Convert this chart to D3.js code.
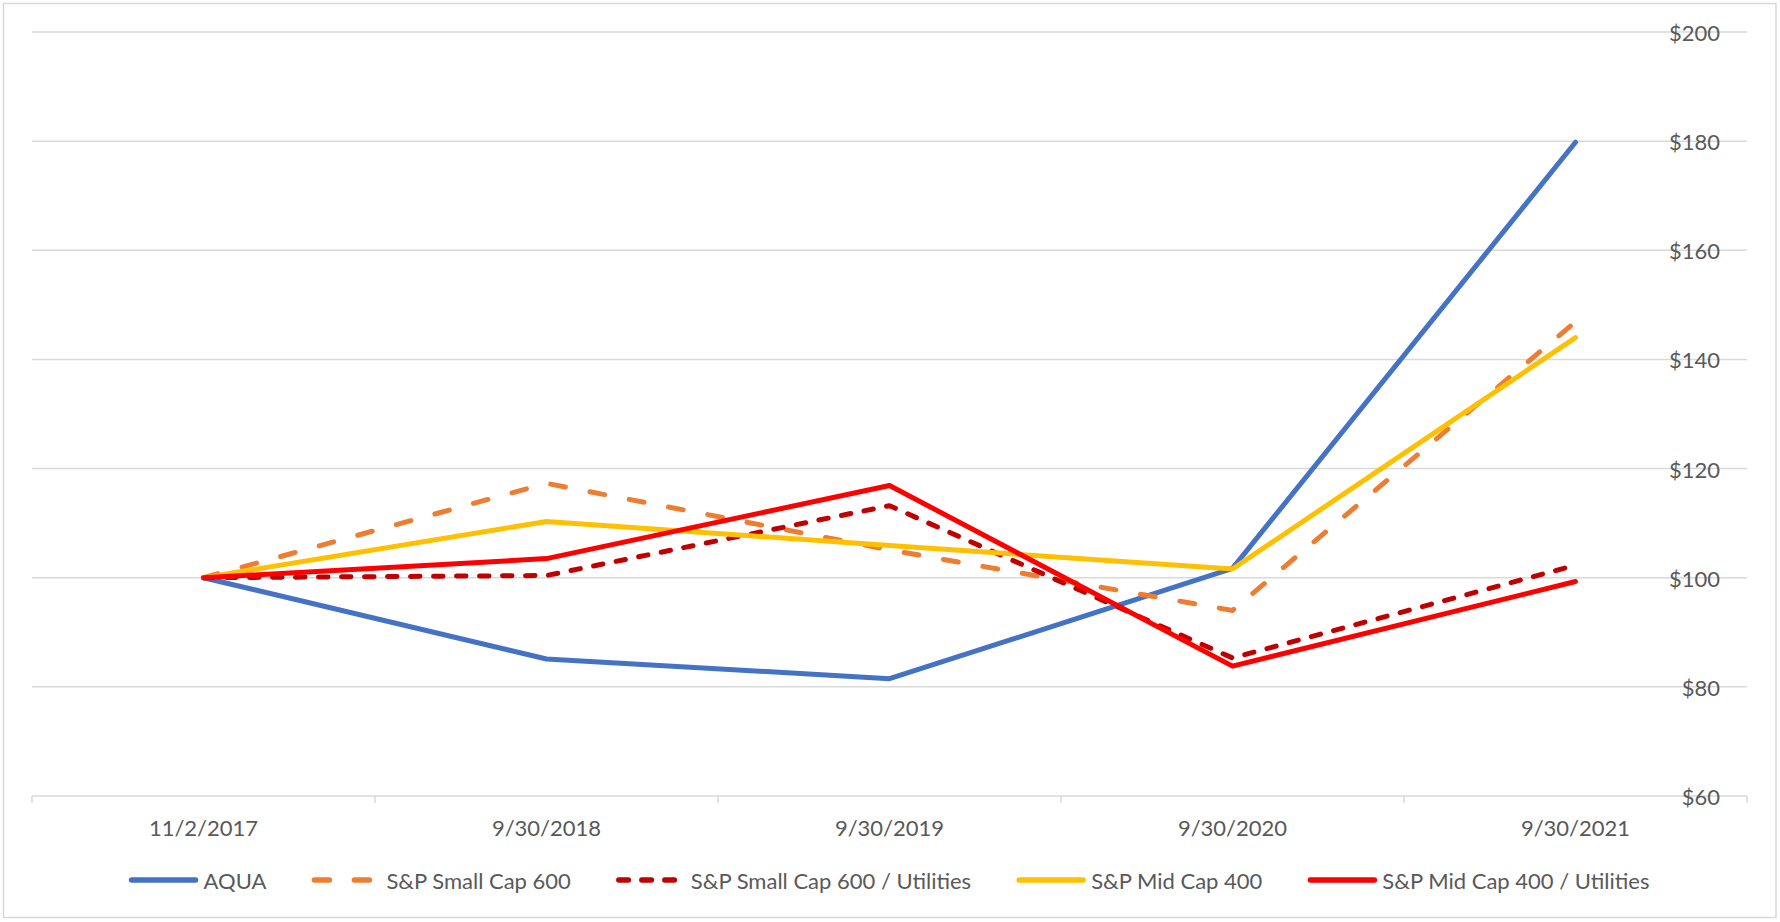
<!DOCTYPE html>
<html>
<head>
<meta charset="utf-8">
<script src="https://cdn.jsdelivr.net/npm/d3@7"></script>
<style>
  html, body { margin: 0; padding: 0; background: #fff; }
  svg { display: block; }
  text { font-family: Lato, "Open Sans", sans-serif; fill: #595959; }
</style>
</head>
<body>
<svg id="chart" width="1780" height="922"></svg>
<script>
// ---- data ----
const categories = ["11/2/2017", "9/30/2018", "9/30/2019", "9/30/2020", "9/30/2021"];
const seriesNames = ["AQUA", "S&P Small Cap 600", "S&P Small Cap 600 / Utilities", "S&P Mid Cap 400", "S&P Mid Cap 400 / Utilities"];
const aqua        = [100, 85.1, 81.5, 101.7, 179.8];
const smallCap600 = [100, 117.3, 105.1, 94.0, 146.9];
const smallCap600Util = [100, 100.4, 113.2, 85.3, 102.3];
const midCap400   = [100, 110.3, 105.9, 101.6, 144.0];
const midCap400Util = [100, 103.5, 116.9, 83.8, 99.3];
const yTicks = [60, 80, 100, 120, 140, 160, 180, 200];

// ---- styles ----
const styles = [
  { color: "#4472C4", dash: null },
  { color: "#ED7D31", dash: "15,25" },
  { color: "#C00000", dash: "9.5,13.5" },
  { color: "#FFC000", dash: null },
  { color: "#FF0000", dash: null }
];
const seriesData = [aqua, smallCap600, smallCap600Util, midCap400, midCap400Util];

const svg = d3.select("#chart");
const W = 1780, H = 922;
const plot = { left: 32, right: 1747, top: 32, bottom: 796 };
const fontSize = 22;
const lineW = 5;

// border
svg.append("rect").attr("x", 3.5).attr("y", 3.5).attr("width", W - 7.5).attr("height", H - 8)
  .attr("fill", "#fff").attr("stroke", "#d9d9d9").attr("stroke-width", 1.5);

const x = d3.scaleBand().domain(categories).range([plot.left, plot.right]).padding(0);
const y = d3.scaleLinear().domain([60, 200]).range([plot.bottom, plot.top]);

// gridlines
svg.append("g").selectAll("line").data(yTicks.filter(t => t !== 60)).join("line")
  .attr("x1", plot.left).attr("x2", plot.right)
  .attr("y1", d => y(d)).attr("y2", d => y(d))
  .attr("stroke", "#d9d9d9").attr("stroke-width", 1.5);

// x axis
const xAxis = d3.axisBottom(x).tickSize(0).tickPadding(0).tickFormat("");
const gx = svg.append("g").attr("transform", `translate(0,${plot.bottom})`).call(xAxis);
gx.select(".domain").remove();
gx.append("line").attr("x1", plot.left).attr("x2", plot.right).attr("y1", 0).attr("y2", 0)
  .attr("stroke", "#d9d9d9").attr("stroke-width", 1.5);
const boundaries = categories.map(c => x(c)).concat([x(categories[categories.length - 1]) + x.bandwidth()]);
gx.selectAll(".bnd").data(boundaries).join("line").attr("class", "bnd")
  .attr("x1", d => d).attr("x2", d => d).attr("y1", 0).attr("y2", 7)
  .attr("stroke", "#d9d9d9").attr("stroke-width", 1.5);
gx.selectAll(".xl").data(categories).join("text").attr("class", "xl")
  .attr("x", d => x(d) + x.bandwidth() / 2).attr("y", 31)
  .attr("text-anchor", "middle").attr("dominant-baseline", "central")
  .attr("font-size", fontSize).text(d => d);

// y axis labels (right side, on gridlines)
const yAxis = d3.axisRight(y).tickValues(yTicks).tickSize(0).tickFormat(d => "$" + d);
const gy = svg.append("g").attr("transform", `translate(1720,0)`).call(yAxis);
gy.select(".domain").remove();
gy.selectAll("text").attr("x", 0).attr("dy", null).attr("dominant-baseline", "central")
  .attr("text-anchor", "end").attr("font-size", fontSize)
  .style("fill", "#595959").style("font-family", "Lato, sans-serif");

// lines
const line = d3.line().x((d, i) => x(categories[i]) + x.bandwidth() / 2).y(d => y(d));
seriesData.forEach((vals, i) => {
  svg.append("path").datum(vals).attr("d", line)
    .attr("fill", "none").attr("stroke", styles[i].color).attr("stroke-width", lineW)
    .attr("stroke-linecap", "round").attr("stroke-linejoin", "round")
    .attr("stroke-dasharray", styles[i].dash);
});

// legend
const legY = 880, lineLen = 68, textGap = 6, itemGap = 46;
const leg = svg.append("g");
const items = seriesNames.map((n, i) => {
  const g = leg.append("g");
  g.append("line").attr("x1", 2).attr("x2", lineLen - 2).attr("y1", 0).attr("y2", 0)
    .attr("stroke", styles[i].color).attr("stroke-width", lineW + 0.5)
    .attr("stroke-linecap", "round").attr("stroke-dasharray", styles[i].dash);
  const t = g.append("text").attr("x", lineLen + textGap).attr("y", 0)
    .attr("dominant-baseline", "central").attr("font-size", fontSize).text(n);
  return { g, w: lineLen + textGap + t.node().getComputedTextLength() };
});
const total = d3.sum(items, d => d.w) + itemGap * (items.length - 1);
let cx = (plot.left + plot.right) / 2 - total / 2;
items.forEach(it => { it.g.attr("transform", `translate(${cx},${legY})`); cx += it.w + itemGap; });
</script>
</body>
</html>
